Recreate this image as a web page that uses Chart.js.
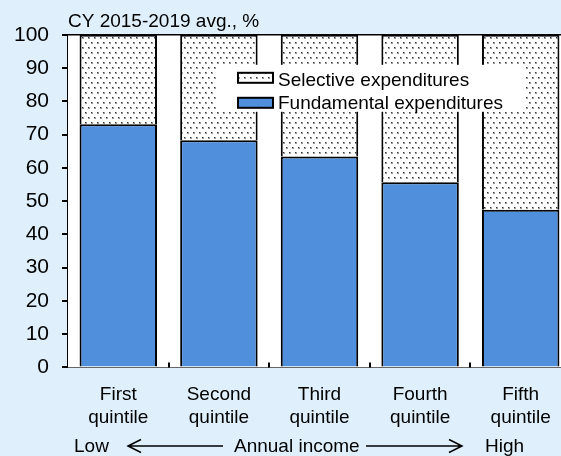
<!DOCTYPE html>
<html>
<head>
<meta charset="utf-8">
<script src="https://cdn.jsdelivr.net/npm/chart.js@4.4.1/dist/chart.umd.min.js"></script>
<style>
  html, body { margin: 0; padding: 0; background: #dff0fc; overflow: hidden; }
  canvas { display: block; }
</style>
</head>
<body>
<canvas id="chart" width="575" height="456"></canvas>
<script>
// Data (CY 2015-2019 avg., %)
const categories = [['First', 'quintile'], ['Second', 'quintile'], ['Third', 'quintile'], ['Fourth', 'quintile'], ['Fifth', 'quintile']];
const fundamental = [73.1, 68.3, 63.4, 55.7, 47.4];
const selective = [26.9, 31.7, 36.6, 44.3, 52.6];
const seriesNames = ['Fundamental expenditures', 'Selective expenditures'];
const subtitle = 'CY 2015-2019 avg., %';
const incomeLabels = ['Low', 'Annual income', 'High'];

const FONT = '"Liberation Sans", Arial, sans-serif';
const BLUE = '#4f8fdb';

// dotted fill for the selective part
function makeDots() {
    const c = document.createElement('canvas');
    c.width = 6; c.height = 10;
    const g = c.getContext('2d');
    g.fillStyle = '#fff';
    g.fillRect(0, 0, 6, 10);
    [[1, 2], [4, 7]].forEach(([x, y]) => {
        g.fillStyle = '#999';
        g.fillRect(x, y, 2, 2);
        g.fillStyle = '#333';
        g.fillRect(x, y, 1, 1);
    });
    return g.createPattern(c, 'repeat');
}

const ctx = document.getElementById('chart').getContext('2d');
const dots = makeDots();

function arrow(g, x1, x2, y) {
    // line from x1 to x2 with head at x2
    const dir = x2 > x1 ? 1 : -1;
    g.beginPath();
    g.moveTo(x1, y);
    g.lineTo(x2, y);
    g.moveTo(x2 - dir * 13, y - 6.5);
    g.lineTo(x2, y);
    g.lineTo(x2 - dir * 13, y + 6.5);
    g.stroke();
}

const extras = {
    id: 'extras',
    beforeDatasetsDraw(chart) {
        const g = chart.ctx;
        const a = chart.chartArea;
        g.save();
        g.fillStyle = '#fff';
        g.fillRect(a.left, a.top, a.right - a.left, a.bottom - a.top);
        g.restore();
    },
    afterDatasetsDraw(chart) {
        const g = chart.ctx;
        const a = chart.chartArea;
        const xs = chart.scales.x;
        g.save();
        g.strokeStyle = '#000';

        // top frame line
        g.lineWidth = 1.5;
        g.beginPath();
        g.moveTo(a.left, a.top);
        g.lineTo(a.right, a.top);
        g.stroke();

        // small inward ticks between categories
        g.lineWidth = 2;
        for (let k = 1; k < categories.length; k++) {
            const x = Math.round(xs.getPixelForValue(k - 0.5));
            g.beginPath();
            g.moveTo(x, a.bottom);
            g.lineTo(x, a.bottom - 5);
            g.stroke();
        }

        // legend box
        const lx = a.left + 148, ly = a.top + 30;
        g.fillStyle = '#fff';
        g.fillRect(lx, ly, 309, 47);
        const items = [
            { label: chart.data.datasets[1].label, fill: dots, y: a.top + 38, base: a.top + 51 },
            { label: chart.data.datasets[0].label, fill: BLUE, y: a.top + 63, base: a.top + 74 }
        ];
        g.font = '19px ' + FONT;
        g.textBaseline = 'alphabetic';
        g.textAlign = 'left';
        items.forEach(it => {
            g.fillStyle = it.fill;
            g.fillRect(a.left + 170, it.y, 35, 10);
            g.lineWidth = 2;
            g.strokeRect(a.left + 170, it.y, 35, 10);
            g.fillStyle = '#000';
            g.fillText(it.label, a.left + 210, it.base);
        });
        g.restore();
    },
    afterDraw(chart) {
        const g = chart.ctx;
        const a = chart.chartArea;
        g.save();
        g.font = '19px ' + FONT;
        g.fillStyle = '#000';
        g.strokeStyle = '#000';
        g.lineWidth = 1.5;
        g.textBaseline = 'alphabetic';
        const base = chart.height - 4;
        g.textAlign = 'left';
        g.fillText(incomeLabels[0], a.left + 6, base);
        g.fillText(incomeLabels[1], a.left + 166, base);
        g.fillText(incomeLabels[2], a.left + 417, base);
        arrow(g, a.left + 155, a.left + 60, base - 6);
        arrow(g, a.left + 298, a.left + 394, base - 6);
        g.restore();
    }
};

new Chart(ctx, {
    type: 'bar',
    data: {
        labels: categories,
        datasets: [{
            label: seriesNames[0],
            data: fundamental,
            backgroundColor: BLUE,
            borderColor: '#000',
            borderWidth: 2
        }, {
            label: seriesNames[1],
            data: selective,
            backgroundColor: dots,
            borderColor: '#000',
            borderWidth: 2
        }]
    },
    options: {
        responsive: false,
        animation: false,
        layout: { padding: { left: 0, right: 4, top: 0, bottom: 19 } },
        datasets: { bar: { categoryPercentage: 1, barPercentage: 0.77 } },
        plugins: {
            legend: { display: false },
            tooltip: { enabled: false },
            title: {
                display: true,
                text: subtitle,
                align: 'start',
                fullSize: false,
                color: '#000',
                font: { family: FONT, size: 19, weight: 'normal' },
                padding: { top: 10, bottom: 2 }
            }
        },
        scales: {
            x: {
                stacked: true,
                grid: { display: false },
                border: { display: true, color: '#000', width: 2 },
                ticks: {
                    color: '#000',
                    padding: 8,
                    maxRotation: 0,
                    autoSkip: false,
                    font: { family: FONT, size: 19, lineHeight: 1.2 }
                }
            },
            y: {
                stacked: true,
                min: 0,
                max: 100,
                afterFit(s) { s.width = 68; },
                grid: { drawOnChartArea: false, color: '#000', lineWidth: 2, tickLength: 6 },
                border: { display: true, color: '#000', width: 2 },
                ticks: {
                    stepSize: 10,
                    color: '#000',
                    padding: 13,
                    font: { family: FONT, size: 21 }
                }
            }
        }
    },
    plugins: [extras]
});
</script>
</body>
</html>
